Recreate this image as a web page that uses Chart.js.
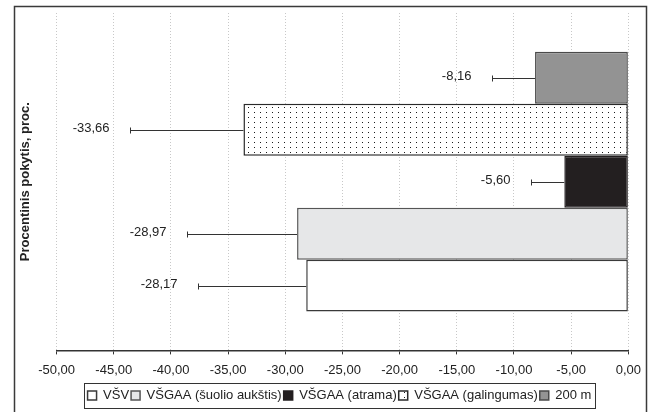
<!DOCTYPE html>
<html>
<head>
<meta charset="utf-8">
<script src="https://cdn.jsdelivr.net/npm/chart.js@4/dist/chart.umd.min.js"></script>
<style>
html,body{margin:0;padding:0;background:#fff;}
</style>
</head>
<body>
<canvas id="bar" width="649" height="412"></canvas>
<script>
// series listed top to bottom as drawn; legend is shown reversed
const seriesNames = ['200 m', 'VŠGAA (galingumas)', 'VŠGAA (atrama)', 'VŠGAA (šuolio aukštis)', 'VŠV'];
const changeValues = [-8.16, -33.66, -5.60, -28.97, -28.17];
const errorValues = [3.76, 9.96, 2.91, 9.64, 9.47];
const xTickValues = [-50, -45, -40, -35, -30, -25, -20, -15, -10, -5, 0];
const axisTitle = 'Procentinis pokytis, proc.';

const FONT = '"Liberation Sans", Arial, sans-serif';

function dotPattern() {
    const c = document.createElement('canvas');
    c.width = 6; c.height = 5;
    const g = c.getContext('2d');
    g.fillStyle = '#fff';
    g.fillRect(0, 0, 6, 5);
    g.fillStyle = '#1a1a1a';
    g.fillRect(2, 2, 1, 1);
    return g.createPattern(c, 'repeat');
}

const fills = ['#939393', dotPattern(), '#231f20', '#e6e7e8', '#ffffff'];
const borders = ['#4a4a4a', '#2a2a2a', '#231f20', '#555555', '#3a3a3a'];

const fmt = v => v.toFixed(2).replace('.', ',');

const errorBars = {
    id: 'errorBars',
    afterDatasetsDraw(chart) {
        const ctx = chart.ctx;
        const xs = chart.scales.x;
        ctx.save();
        chart.data.datasets.forEach((ds, i) => {
            const bar = chart.getDatasetMeta(i).data[0];
            const end = Math.round(xs.getPixelForValue(changeValues[i] - errorValues[i])) + 0.5;
            const y = Math.round(bar.y) + 0.5;
            ctx.strokeStyle = '#333';
            ctx.lineWidth = 1;
            ctx.beginPath();
            ctx.moveTo(bar.x, y);
            ctx.lineTo(end, y);
            ctx.moveTo(end, y - 3);
            ctx.lineTo(end, y + 3);
            ctx.stroke();
            ctx.fillStyle = '#222';
            ctx.font = '13px ' + FONT;
            ctx.textAlign = 'right';
            ctx.textBaseline = 'middle';
            ctx.fillText(fmt(changeValues[i]), end - 21, y - 2);
        });
        ctx.restore();
    }
};

const frame = {
    id: 'frame',
    afterLayout(chart) {
        // legend sits centred under the plot area
        const lg = chart.legend;
        const dx = (chart.chartArea.left + chart.chartArea.right) / 2 - (lg.left + lg.right) / 2 - 3;
        lg.left += dx; lg.right += dx;
        lg.top += 1; lg.bottom += 1;
    },
    beforeDraw(chart) {
        const ctx = chart.ctx;
        ctx.save();
        ctx.fillStyle = '#fff';
        ctx.fillRect(0, 0, chart.width, chart.height);
        ctx.restore();
    },
    afterDraw(chart) {
        const ctx = chart.ctx;
        ctx.save();
        ctx.strokeStyle = '#3a3a3a';
        ctx.lineWidth = 1.5;
        ctx.strokeRect(14.5, 6.5, 632, 420);
        // box round the legend
        const hb = chart.legend.legendHitBoxes;
        if (hb && hb.length) {
            const l = Math.min(...hb.map(h => h.left)) - 4;
            const r = Math.max(...hb.map(h => h.left + h.width)) + 3;
            const t = Math.min(...hb.map(h => h.top)) - 6;
            const b = Math.max(...hb.map(h => h.top + h.height)) + 6;
            ctx.lineWidth = 1;
            ctx.strokeStyle = '#333';
            ctx.strokeRect(Math.round(l) + 0.5, Math.round(t) + 0.5, Math.round(r - l), Math.round(b - t));
        }
        ctx.restore();
    }
};

const ctx = document.getElementById('bar').getContext('2d');

new Chart(ctx, {
    type: 'bar',
    data: {
        labels: [''],
        datasets: seriesNames.map((name, i) => ({
            label: name,
            data: [changeValues[i]],
            backgroundColor: fills[i],
            borderColor: borders[i],
            borderWidth: 1.5,
            borderSkipped: false,
            categoryPercentage: 0.77,
            barPercentage: 1
        }))
    },
    options: {
        indexAxis: 'y',
        responsive: false,
        animation: false,
        devicePixelRatio: 1,
        layout: { padding: { left: 14, right: 20, top: 13, bottom: 1 } },
        scales: {
            x: {
                min: xTickValues[0],
                max: xTickValues[xTickValues.length - 1],
                afterBuildTicks: axis => { axis.ticks = xTickValues.map(v => ({ value: v })); },
                ticks: {
                    callback: v => fmt(v),
                    font: { family: FONT, size: 13 },
                    color: '#222',
                    padding: 8,
                    maxRotation: 0
                },
                grid: { color: '#c8c8c8', lineWidth: 1, tickColor: '#333', tickLength: 4 },
                border: { display: true, color: '#333', width: 1.5, dash: [1, 2] }
            },
            y: {
                grid: { display: false },
                border: { display: false },
                ticks: { display: false },
                title: {
                    display: true,
                    text: axisTitle,
                    color: '#222',
                    font: { family: FONT, size: 13, weight: 'bold' },
                    padding: { top: 4, bottom: 15 }
                }
            }
        },
        plugins: {
            legend: {
                position: 'bottom',
                reverse: true,
                labels: {
                    boxWidth: 9,
                    boxHeight: 9,
                    padding: 2,
                    color: '#222',
                    font: { family: FONT, size: 13 }
                }
            },
            tooltip: { enabled: false }
        }
    },
    plugins: [errorBars, frame]
});
</script>
</body>
</html>
